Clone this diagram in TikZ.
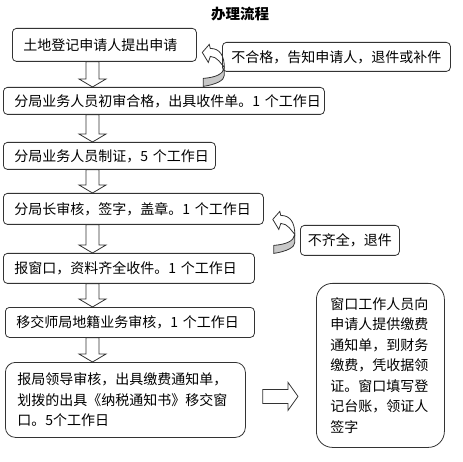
\documentclass[tikz,border=0pt]{standalone}
\usepackage{fontspec}
\setmainfont{Noto Sans CJK SC}
\usetikzlibrary{calc, positioning}
\definecolor{cline}{HTML}{333333}
\definecolor{cturn}{HTML}{C8C8C8}
\tikzset{
  every picture/.style={line width=0.8pt},
  stepbox/.style={draw=cline, rounded corners=4pt, anchor=north west, align=left, inner xsep=11pt, inner ysep=0pt, font=\fontsize{14}{20.5}\selectfont},
  notebox/.style={draw=cline, rounded corners=4pt, anchor=north west, align=center, inner sep=0pt, font=\fontsize{14}{20.5}\selectfont},
  downarrow/.style={draw=cline, to path={
    ($(\tikztostart)+(-6.5,0)$) -- ($(\tikztotarget)+(-6.5,-8)$) -- ($(\tikztotarget)+(-13.5,-8)$) -- (\tikztotarget)
    -- ($(\tikztotarget)+(13.5,-8)$) -- ($(\tikztotarget)+(6.5,-8)$) -- ($(\tikztostart)+(6.5,0)$) -- cycle}},
  rightarrow/.style={draw=cline, to path={
    ($(\tikztostart)+(0,-7)$) -- ($(\tikztotarget)+(-10,-7)$) -- ($(\tikztotarget)+(-10,-14)$) -- (\tikztotarget)
    -- ($(\tikztotarget)+(-10,14)$) -- ($(\tikztotarget)+(-10,7)$) -- ($(\tikztostart)+(0,7)$) -- cycle}},
  pics/uturn/.style={code={
    \draw[cline, fill=white] (0,0) -- (7,-8) -- (8,-4) .. controls (18,-4) and (22,4) .. (22,15)
      .. controls (19,12) and (15,4) .. (8,4) -- (6,10) -- cycle;
    \draw[cline, fill=cturn] (22,15) .. controls (21,22) and (13,25) .. (1,26) -- (1,34)
      .. controls (14,32) and (22,28) .. (22,23) -- cycle;
  }},
}

\begin{document}
\begin{tikzpicture}[x=1pt, y=-1pt]
  \useasboundingbox (0,0) rectangle (463,462);
  \node[font=\bfseries\fontsize{14.5}{16}\selectfont] (title) at (240,14) {办理流程};
  % main steps
  \foreach \n/\x/\y/\w/\h/\t in {
    b1/12/28/184/33/土地登记申请人提出申请,
    b2/3/87/321/27/分局业务人员初审合格，出具收件单。1~个工作日,
    b3/3/142/212/27/分局业务人员制证，5~个工作日,
    b4/3/193/260/31/分局长审核，签字，盖章。1~个工作日,
    b5/3/253/251/30/报窗口，资料齐全收件。1~个工作日,
    b6/5/307/249/30/移交师局地籍业务审核，1~个工作日} {
    \pgfmathsetmacro\tw{\w-22}
    \node[stepbox, minimum height=\h, text width=\tw pt] (\n) at (\x,\y) {\t};
  }
  \node[stepbox, rounded corners=10pt, inner xsep=12pt, minimum height=75, text width=216pt] (b7) at (5,362)
    {报局领导审核，出具缴费通知单，\\划拨的出具《纳税通知书》移交窗\\口。5个工作日};
  \node[stepbox, rounded corners=16pt, inner xsep=14pt, minimum height=164, text width=100pt] (b8) at (316,283)
    {窗口工作人员向\\申请人提供缴费\\通知单，到财务\\缴费，凭收据领\\证。窗口填写登\\记台账，领证人\\签字};
  % returns
  \pic at ($(b1.east)+(5.5,7.5)$) {uturn};
  \pic at ($(b4.east)+(9,10.5)$) {uturn};
  \node[notebox, minimum width=228, minimum height=29] (r1) at (222,42) {不合格，告知申请人，退件或补件};
  \node[notebox, minimum width=99, minimum height=30] (r2) at (300,225) {不齐全，退件};
  % block arrows
  \coordinate (axis) at (92.5,0);
  \foreach \a/\b in {b1/b2, b2/b3, b3/b4, b4/b5, b5/b6, b6/b7}
    \draw[downarrow] (\a.south -| axis) to (\b.north -| axis);
  \draw[rightarrow] ($(b7.east)+(17,-3.5)$) to ($(b8.west |- b7.east)+(-18,-3.5)$);
\end{tikzpicture}
\end{document}
